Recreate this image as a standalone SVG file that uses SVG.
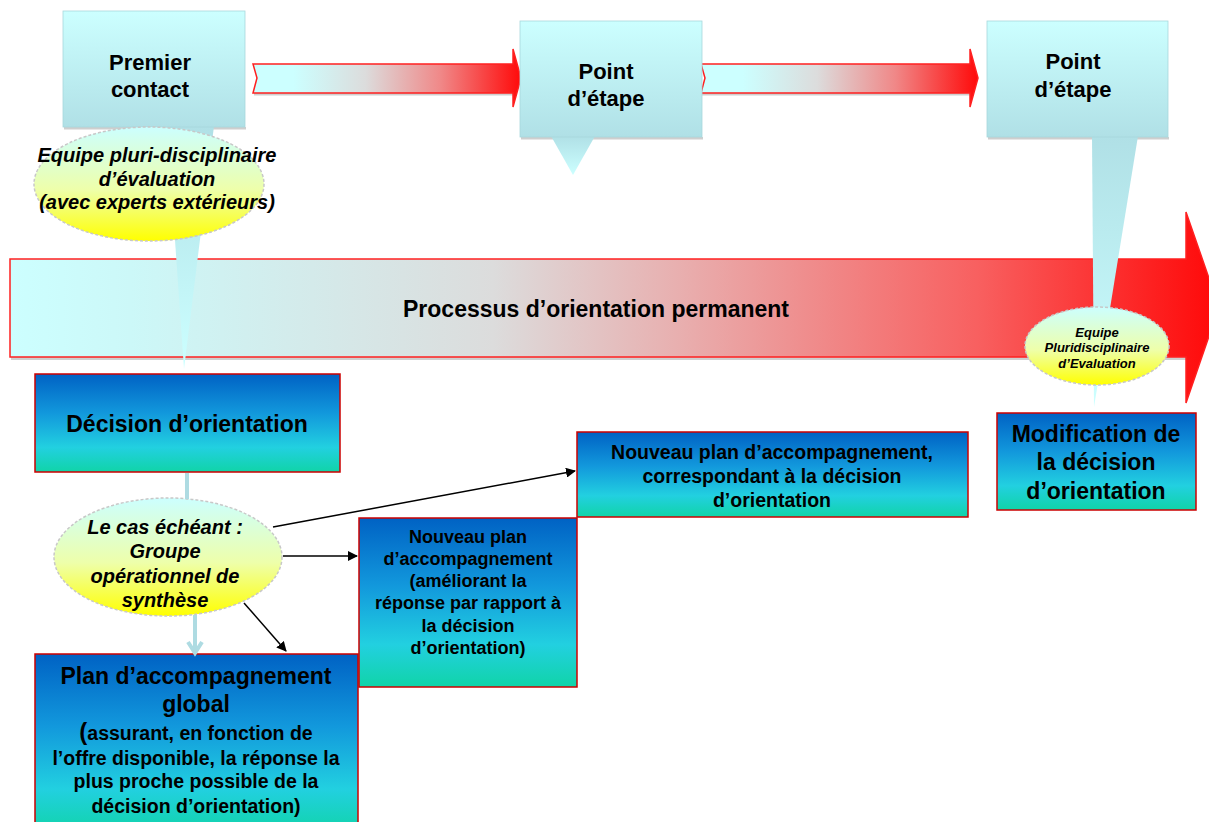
<svg xmlns="http://www.w3.org/2000/svg" width="1209" height="822" viewBox="0 0 1209 822">
<defs>
<linearGradient id="gBand" gradientUnits="userSpaceOnUse" x1="10" y1="0" x2="1219" y2="0">
<stop offset="0" stop-color="#ccffff"/>
<stop offset="0.1" stop-color="#ccf8f8"/>
<stop offset="0.4" stop-color="#dcdcdc"/>
<stop offset="0.55" stop-color="#e8b0b0"/>
<stop offset="0.8" stop-color="#f86060"/>
<stop offset="1" stop-color="#ff0808"/>
</linearGradient>
<linearGradient id="gArr" x1="0" y1="0" x2="1" y2="0">
<stop offset="0" stop-color="#ccffff"/>
<stop offset="0.15" stop-color="#ccffff"/>
<stop offset="0.42" stop-color="#dcdcdc"/>
<stop offset="0.7" stop-color="#f08888"/>
<stop offset="1" stop-color="#ff0a0a"/>
</linearGradient>
<linearGradient id="gCall" x1="0" y1="0" x2="0" y2="1">
<stop offset="0" stop-color="#ccffff"/>
<stop offset="1" stop-color="#b0e0e6"/>
</linearGradient>
<linearGradient id="gTail" x1="0" y1="0" x2="0" y2="1">
<stop offset="0" stop-color="#b0e0e6"/>
<stop offset="1" stop-color="#ccffff"/>
</linearGradient>
<linearGradient id="gEll" x1="0" y1="0" x2="0" y2="1">
<stop offset="0" stop-color="#ccffff"/>
<stop offset="0.55" stop-color="#eeffaa"/>
<stop offset="1" stop-color="#ffff00"/>
</linearGradient>
<linearGradient id="gBox" x1="0" y1="0" x2="0" y2="1">
<stop offset="0" stop-color="#0062c4"/>
<stop offset="0.4" stop-color="#1298dc"/>
<stop offset="0.75" stop-color="#22d0e0"/>
<stop offset="1" stop-color="#10d4a8"/>
</linearGradient>
<marker id="ah" viewBox="0 0 10 10" refX="9" refY="5" markerWidth="10" markerHeight="10" markerUnits="userSpaceOnUse" orient="auto">
<path d="M0,0 L10,5 L0,10 z" fill="#000"/>
</marker>
</defs>
<style>
.arrow{stroke:#ff2020;stroke-width:1.5;}
.shadow{fill:#cfcfcf;stroke:none;}
.call{fill:url(#gCall);stroke:#a8d8dc;stroke-width:0.8;}
.tail{fill:url(#gTail);stroke:none;}
.ell{fill:url(#gEll);stroke:#c8c8c8;stroke-width:1.5;stroke-dasharray:3 2;}
.box{fill:url(#gBox);stroke:#cc0000;stroke-width:1.5;}
text{font-family:"Liberation Sans",Arial,sans-serif;font-weight:bold;fill:#000;text-anchor:middle;}
.it{font-style:italic;}
.conn{stroke:#000;stroke-width:1.5;fill:none;marker-end:url(#ah);}
.lb{stroke:#aedbe2;stroke-width:4;fill:none;}
</style>
<rect width="1209" height="822" fill="#fff"/>

<g id="band">
<rect class="shadow" x="11" y="357" width="1176" height="3"/>
<polygon points="10,259 1186,259 1186,212 1219,307 1186,403 1186,357 10,357" fill="url(#gBand)" class="arrow"/>
<text x="596" y="317" font-size="23">Processus d’orientation permanent</text>
</g>

<g id="arrow-top-1">
<rect class="shadow" x="254" y="93" width="259" height="2.5"/>
<polygon points="253,64 513,64 513,49 521,78 513,107 513,93 253,93 257,78" fill="url(#gArr)" class="arrow"/>
</g>
<g id="arrow-top-2">
<rect class="shadow" x="702" y="93" width="268" height="2.5"/>
<polygon points="701,64 970,64 970,49 978,78 970,107 970,93 701,93 705,78" fill="url(#gArr)" class="arrow"/>
</g>

<g id="premier-contact">
<rect class="shadow" x="64" y="127" width="182" height="2.5"/>
<polygon class="tail" points="167,126 214,126 184,369"/>
<rect class="call" x="63" y="11" width="182" height="116"/>
<text x="150" y="70" font-size="22">Premier</text>
<text x="150" y="97" font-size="22">contact</text>
</g>

<g id="point-etape-1">
<rect class="shadow" x="521" y="137" width="182" height="2.5"/>
<polygon class="tail" points="551,136 595,136 573,175"/>
<rect class="call" x="520" y="21" width="182" height="116"/>
<text x="606" y="79" font-size="22">Point</text>
<text x="606" y="106" font-size="22">d’étape</text>
</g>

<g id="point-etape-2">
<rect class="shadow" x="988" y="137" width="181" height="2.5"/>
<polygon class="tail" points="1092,136 1138,136 1094,407"/>
<rect class="call" x="987" y="21" width="181" height="116"/>
<text x="1073" y="69" font-size="22">Point</text>
<text x="1073" y="97" font-size="22">d’étape</text>
</g>

<g id="equipe-evaluation">
<ellipse class="ell" cx="149" cy="184" rx="115" ry="57"/>
<text class="it" x="157" y="162" font-size="20">Equipe pluri-disciplinaire</text>
<text class="it" x="157" y="186" font-size="20">d’évaluation</text>
<text class="it" x="157" y="209" font-size="20">(avec experts extérieurs)</text>
</g>

<g id="equipe-pluridisciplinaire">
<ellipse class="ell" cx="1097" cy="346" rx="72" ry="39"/>
<text class="it" x="1097" y="337" font-size="13">Equipe</text>
<text class="it" x="1097" y="352" font-size="13">Pluridisciplinaire</text>
<text class="it" x="1097" y="368" font-size="13">d’Evaluation</text>
</g>

<g id="decision-orientation">
<rect class="box" x="35" y="374" width="305" height="98"/>
<text x="187" y="432" font-size="23">Décision d’orientation</text>
</g>

<g id="groupe-operationnel">
<ellipse class="ell" cx="168" cy="557" rx="114" ry="59"/>
<text class="it" x="165" y="534" font-size="20">Le cas échéant :</text>
<text class="it" x="165" y="558" font-size="20">Groupe</text>
<text class="it" x="165" y="583" font-size="20">opérationnel de</text>
<text class="it" x="165" y="607" font-size="20">synthèse</text>
</g>

<g id="plan-global">
<rect class="box" x="35" y="654" width="323" height="180"/>
<text x="196" y="684" font-size="23">Plan d’accompagnement</text>
<text x="196" y="712" font-size="23">global</text>
<text x="196" y="740" font-size="19.5"><tspan font-size="24">(</tspan>assurant, en fonction de</text>
<text x="196" y="765" font-size="19.5">l’offre disponible, la réponse la</text>
<text x="196" y="788" font-size="19.5">plus proche possible de la</text>
<text x="196" y="813" font-size="19.5">décision d’orientation)</text>
</g>

<g id="nouveau-plan-ameliorant">
<rect class="box" x="359" y="518" width="218" height="169"/>
<text x="468" y="543" font-size="18">Nouveau plan</text>
<text x="468" y="565" font-size="18">d’accompagnement</text>
<text x="468" y="587" font-size="18">(améliorant la</text>
<text x="468" y="609" font-size="18">réponse par rapport à</text>
<text x="468" y="632" font-size="18">la décision</text>
<text x="468" y="654" font-size="18">d’orientation)</text>
</g>

<g id="nouveau-plan-correspondant">
<rect class="box" x="577" y="432" width="391" height="85"/>
<text x="772" y="459" font-size="19.5">Nouveau plan d’accompagnement,</text>
<text x="772" y="483" font-size="19.5">correspondant à la décision</text>
<text x="772" y="507" font-size="19.5">d’orientation</text>
</g>

<g id="modification-decision">
<rect class="box" x="997" y="413" width="199" height="97"/>
<text x="1096" y="442" font-size="23">Modification de</text>
<text x="1096" y="470" font-size="23">la décision</text>
<text x="1096" y="499" font-size="23">d’orientation</text>
</g>

<g id="connectors">
<line class="lb" x1="187" y1="473" x2="187" y2="499"/>
<line class="lb" x1="195" y1="615" x2="195" y2="653"/>
<polyline class="lb" points="188,642 195,653 202,642"/>
<line class="conn" x1="244" y1="603" x2="286" y2="651"/>
<line class="conn" x1="283" y1="556" x2="357" y2="556"/>
<line class="conn" x1="273" y1="527" x2="575" y2="471"/>
</g>
</svg>
